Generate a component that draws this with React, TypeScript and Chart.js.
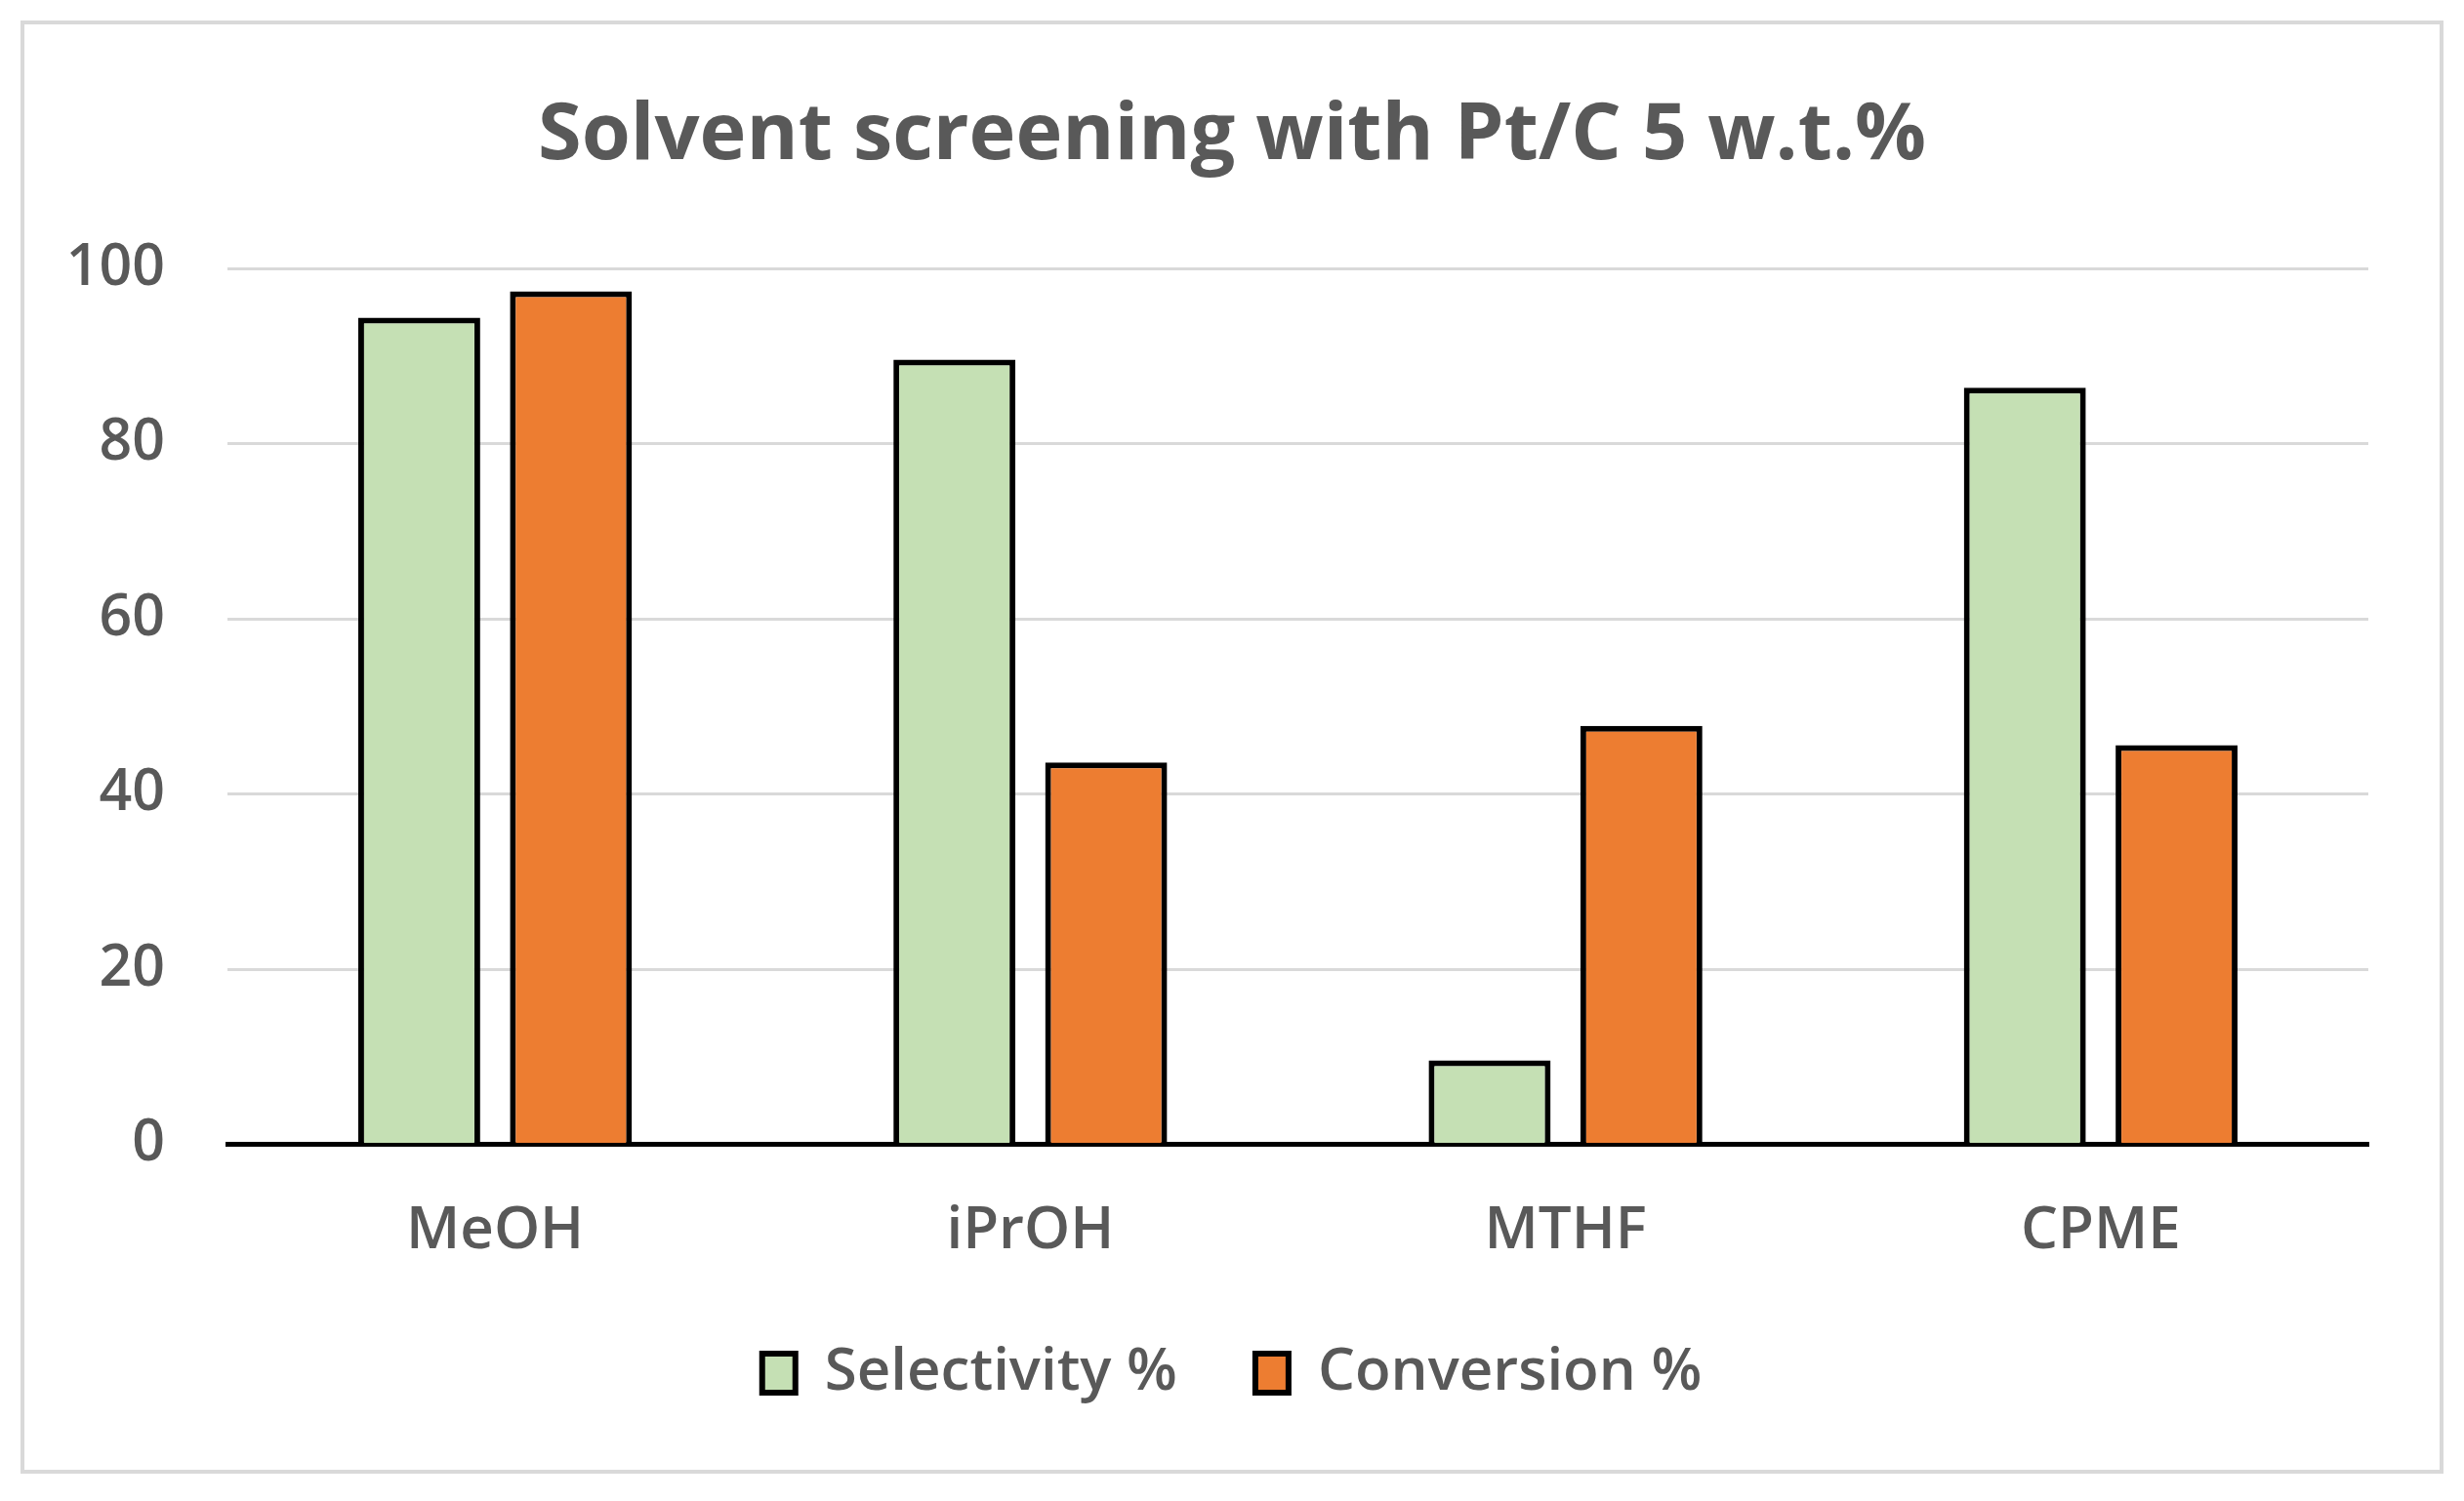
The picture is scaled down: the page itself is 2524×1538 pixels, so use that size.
import { useEffect, useRef } from "react"
import { Chart, registerables } from "chart.js"

Chart.register(...registerables)

const solvents = ["MeOH", "iPrOH", "MTHF", "CPME"]
const selectivity = [94.4, 89.6, 9.6, 86.4]
const conversion = [97.4, 43.6, 47.8, 45.6]
const yMin = 0
const yMax = 100
const yStep = 20

const WIDTH = 2524
const HEIGHT = 1538
const TEXT = "#595959"
const FONT = "'Open Sans', 'Noto Sans', sans-serif"

export default function App() {
  const chartRef = useRef<HTMLCanvasElement>(null)
  const chartInstance = useRef<Chart | null>(null)

  useEffect(() => {
    document.body.style.margin = "0"
    if (!chartRef.current) return

    if (chartInstance.current) {
      chartInstance.current.destroy()
    }

    const ctx = chartRef.current.getContext("2d")
    if (!ctx) return

    chartInstance.current = new Chart(ctx, {
      type: "bar",
      data: {
        labels: solvents,
        datasets: [
          {
            label: "Selectivity %",
            data: selectivity,
            backgroundColor: "#C5E0B4",
            borderColor: "#000000",
            borderWidth: 6,
            categoryPercentage: 0.567,
            barPercentage: 0.804,
          },
          {
            label: "Conversion %",
            data: conversion,
            backgroundColor: "#ED7D31",
            borderColor: "#000000",
            borderWidth: 6,
            categoryPercentage: 0.567,
            barPercentage: 0.804,
          },
        ],
      },
      options: {
        animation: false,
        responsive: false,
        devicePixelRatio: 1,
        layout: {
          padding: { left: 21, right: 21, top: 0, bottom: 91 },
        },
        plugins: {
          title: {
            display: true,
            text: "Solvent screening with Pt/C 5 w.t.%",
            color: TEXT,
            font: { family: FONT, size: 81, weight: "bold" },
            padding: { top: 91, bottom: 87 },
          },
          legend: {
            position: "bottom",
            labels: {
              color: TEXT,
              font: { family: FONT, size: 60, weight: 600 },
              boxWidth: 34,
              boxHeight: 40,
              padding: 80,
            },
          },
          tooltip: { enabled: false },
        },
        scales: {
          x: {
            z: 1,
            grid: { display: false },
            border: { display: true, color: "#000000", width: 5 },
            ticks: {
              color: TEXT,
              font: { family: FONT, size: 60, weight: 600 },
              padding: 45,
            },
            afterFit: (scale) => {
              scale.height = 124.4
            },
          },
          y: {
            min: yMin,
            max: yMax,
            grid: { color: "#D9D9D9", lineWidth: 3, drawTicks: false },
            border: { display: false },
            ticks: {
              stepSize: yStep,
              color: TEXT,
              font: { family: FONT, size: 59, weight: 600 },
              padding: 64,
            },
            afterFit: (scale) => {
              scale.width = 212
            },
          },
          // empty right-hand axis, only to keep the plot clear of the right edge
          yRight: {
            position: "right",
            min: yMin,
            max: yMax,
            grid: { display: false },
            border: { display: false },
            ticks: { display: false },
            afterFit: (scale) => {
              scale.width = 77
            },
          },
        },
      },
    })

    return () => {
      if (chartInstance.current) {
        chartInstance.current.destroy()
        chartInstance.current = null
      }
    }
  }, [])

  return (
    <div style={{ position: "relative", width: WIDTH, height: HEIGHT, background: "#ffffff" }}>
      <canvas
        ref={chartRef}
        width={WIDTH}
        height={HEIGHT}
        style={{ position: "absolute", left: 0, top: 0, width: WIDTH, height: HEIGHT }}
      />
      <div
        style={{
          position: "absolute",
          left: 21,
          top: 21,
          width: 2482,
          height: 1489,
          boxSizing: "border-box",
          border: "4px solid #D9D9D9",
          pointerEvents: "none",
        }}
      />
    </div>
  )
}
